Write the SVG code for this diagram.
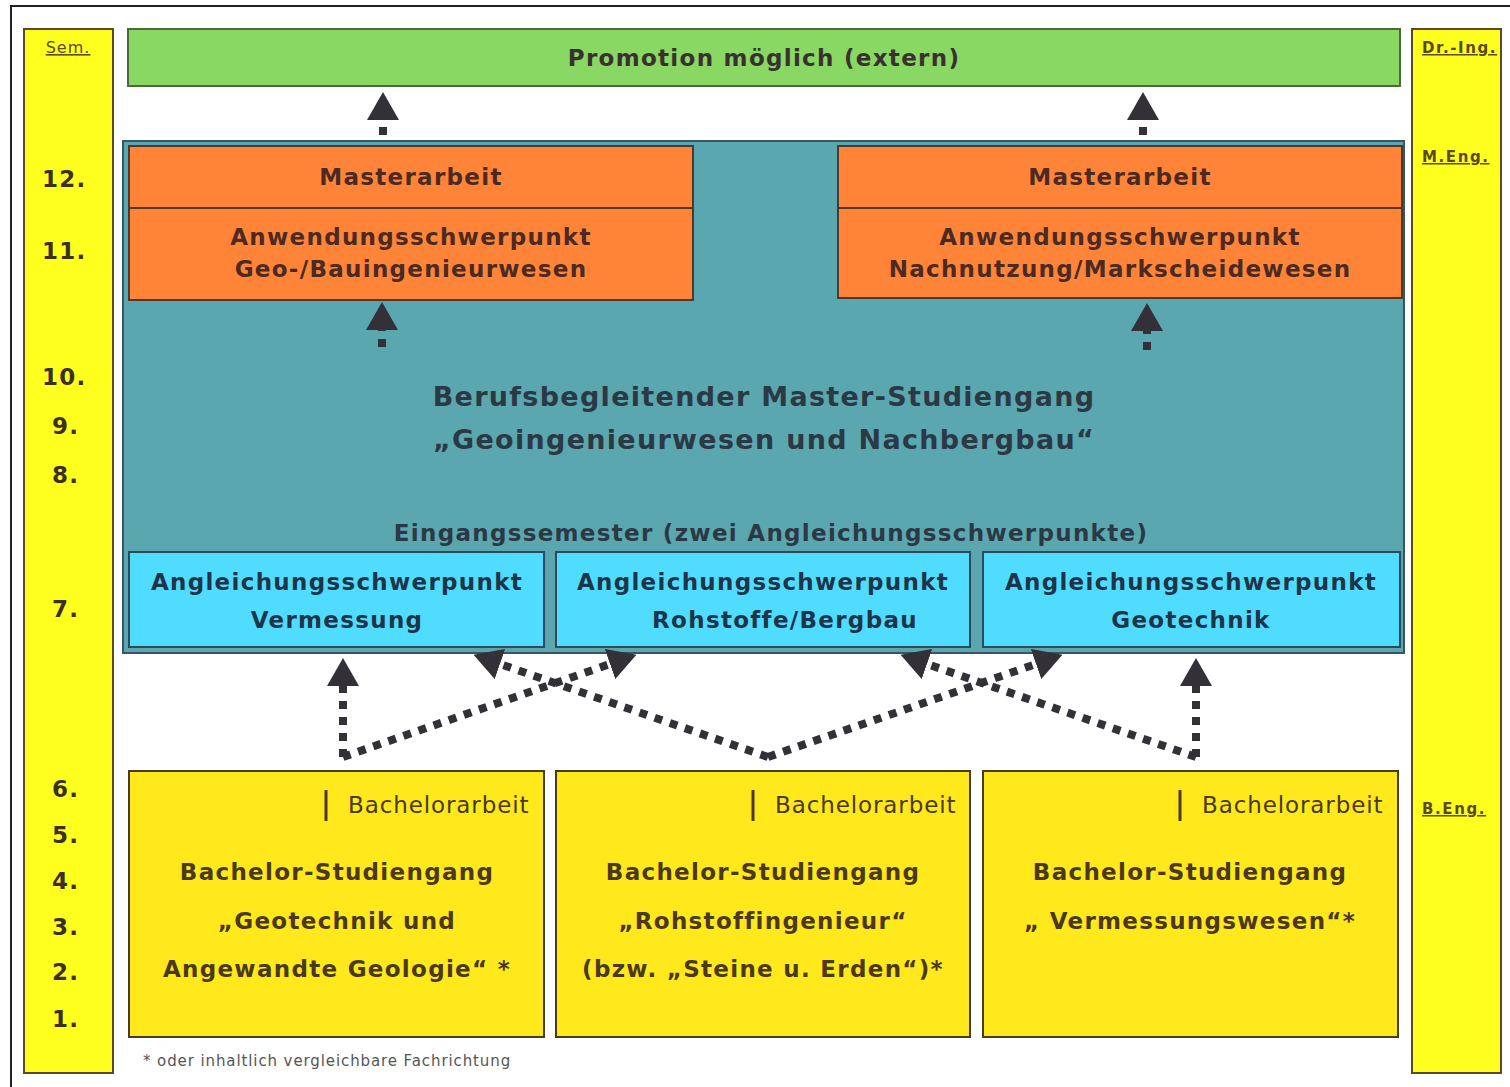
<svg xmlns="http://www.w3.org/2000/svg" width="1510" height="1087" viewBox="0 0 1510 1087">
<style>
text{font-family:"DejaVu Sans","Verdana",sans-serif;font-weight:bold;letter-spacing:1.3px}
.c{text-anchor:middle}
.sem{font-size:23px;fill:#3b3028;letter-spacing:1.2px}
.deg{font-size:15px;fill:#5a4a1e;text-decoration:underline;letter-spacing:1.6px}
.mas{font-size:23px;fill:#4a2a22}
.teal{font-size:27px;fill:#2c3844}
.cy{font-size:23px;fill:#1e3448}
.ba{font-size:23px;fill:#4a3820}
.bar{font-size:23px;font-weight:normal;fill:#4a3820;letter-spacing:0.9px}
.conn{fill:none;stroke:#333038;stroke-width:8;stroke-dasharray:8 8;marker-end:url(#ah)}
</style>
<defs>
<marker id="ah" markerUnits="userSpaceOnUse" markerWidth="30" markerHeight="32" refX="0" refY="16" orient="auto" viewBox="0 0 30 32">
<path d="M0,0 L28,16 L0,32 Z" fill="#333038"/>
</marker>
</defs>
<rect x="0" y="0" width="1510" height="1087" fill="#ffffff"/>
<rect x="11" y="6" width="1510" height="1095" fill="#ffffff" stroke="#222" stroke-width="2"/>

<g id="sem-column">
<rect x="24" y="29" width="89" height="1044" fill="#ffff1f" stroke="#5a4a2a" stroke-width="2"/>
<text x="68" y="53" class="deg c" style="font-weight:normal;font-size:16px;letter-spacing:1px">Sem.</text>
<text x="42" y="187" class="sem">12.</text>
<text x="42" y="259" class="sem">11.</text>
<text x="42" y="385" class="sem">10.</text>
<text x="52" y="434" class="sem">9.</text>
<text x="52" y="483" class="sem">8.</text>
<text x="52" y="617" class="sem">7.</text>
<text x="52" y="797" class="sem">6.</text>
<text x="52" y="843" class="sem">5.</text>
<text x="52" y="889" class="sem">4.</text>
<text x="52" y="935" class="sem">3.</text>
<text x="52" y="980" class="sem">2.</text>
<text x="52" y="1027" class="sem">1.</text>
</g>

<g id="degree-column">
<rect x="1412" y="29" width="89" height="1044" fill="#ffff1f" stroke="#5a4a2a" stroke-width="2"/>
<text x="1422" y="53" class="deg">Dr.-Ing.</text>
<text x="1422" y="162" class="deg">M.Eng.</text>
<text x="1422" y="814" class="deg">B.Eng.</text>
</g>

<g id="promotion">
<rect x="128" y="29" width="1272" height="57" fill="#88d863" stroke="#4a6a3a" stroke-width="2"/>
<text x="764" y="66" class="c" style="font-size:23px;fill:#3a3030">Promotion möglich (extern)</text>
</g>

<g id="master">
<rect x="123" y="141" width="1281" height="512" fill="#5aa7b0" stroke="#3a5560" stroke-width="2"/>
<text x="764" y="406" class="teal c">Berufsbegleitender Master-Studiengang</text>
<text x="764" y="449" class="teal c">„Geoingenieurwesen und Nachbergbau“</text>
<text x="771" y="541" class="c" style="font-size:23px;fill:#2c3844">Eingangssemester (zwei Angleichungsschwerpunkte)</text>
</g>

<g id="master-left">
<rect x="129" y="146" width="564" height="154" fill="#ff8438" stroke="#4a3a30" stroke-width="2"/>
<line x1="129" y1="208" x2="693" y2="208" stroke="#4a3a30" stroke-width="2"/>
<text x="411" y="185" class="mas c">Masterarbeit</text>
<text x="411" y="245" class="mas c">Anwendungsschwerpunkt</text>
<text x="411" y="277" class="mas c">Geo-/Bauingenieurwesen</text>
</g>

<g id="master-right">
<rect x="838" y="146" width="564" height="152" fill="#ff8438" stroke="#4a3a30" stroke-width="2"/>
<line x1="838" y1="208" x2="1402" y2="208" stroke="#4a3a30" stroke-width="2"/>
<text x="1120" y="185" class="mas c">Masterarbeit</text>
<text x="1120" y="245" class="mas c">Anwendungsschwerpunkt</text>
<text x="1120" y="277" class="mas c">Nachnutzung/Markscheidewesen</text>
</g>

<g id="angl-vermessung">
<rect x="129" y="552" width="415" height="95" fill="#50dcff" stroke="#2e4a5a" stroke-width="2"/>
<text x="337" y="590" class="cy c">Angleichungsschwerpunkt</text>
<text x="337" y="628" class="cy c">Vermessung</text>
</g>
<g id="angl-rohstoffe">
<rect x="556" y="552" width="414" height="95" fill="#50dcff" stroke="#2e4a5a" stroke-width="2"/>
<text x="763" y="590" class="cy c">Angleichungsschwerpunkt</text>
<text x="785" y="628" class="cy c">Rohstoffe/Bergbau</text>
</g>
<g id="angl-geotechnik">
<rect x="983" y="552" width="417" height="95" fill="#50dcff" stroke="#2e4a5a" stroke-width="2"/>
<text x="1191" y="590" class="cy c">Angleichungsschwerpunkt</text>
<text x="1191" y="628" class="cy c">Geotechnik</text>
</g>

<g id="bachelor-geotechnik">
<rect x="129" y="771" width="415" height="266" fill="#ffe81c" stroke="#4a3a20" stroke-width="2"/>
<line x1="326" y1="790" x2="326" y2="821" stroke="#4a3820" stroke-width="3"/>
<text x="348" y="813" class="bar">Bachelorarbeit</text>
<text x="337" y="880" class="ba c">Bachelor-Studiengang</text>
<text x="337" y="929" class="ba c">„Geotechnik und</text>
<text x="337" y="977" class="ba c">Angewandte Geologie“ *</text>
</g>
<g id="bachelor-rohstoff">
<rect x="556" y="771" width="414" height="266" fill="#ffe81c" stroke="#4a3a20" stroke-width="2"/>
<line x1="753" y1="790" x2="753" y2="821" stroke="#4a3820" stroke-width="3"/>
<text x="775" y="813" class="bar">Bachelorarbeit</text>
<text x="763" y="880" class="ba c">Bachelor-Studiengang</text>
<text x="763" y="929" class="ba c">„Rohstoffingenieur“</text>
<text x="763" y="977" class="ba c">(bzw. „Steine u. Erden“)*</text>
</g>
<g id="bachelor-vermessung">
<rect x="983" y="771" width="415" height="266" fill="#ffe81c" stroke="#4a3a20" stroke-width="2"/>
<line x1="1180" y1="790" x2="1180" y2="821" stroke="#4a3820" stroke-width="3"/>
<text x="1202" y="813" class="bar">Bachelorarbeit</text>
<text x="1190" y="880" class="ba c">Bachelor-Studiengang</text>
<text x="1190" y="929" class="ba c">„ Vermessungswesen“*</text>
</g>

<text x="143" y="1066" style="font-weight:normal;font-size:15px;fill:#555;letter-spacing:0.9px">* oder inhaltlich vergleichbare Fachrichtung</text>

<g id="connectors">
<path class="conn" d="M383,135 L383,120"/>
<path class="conn" d="M1143,135 L1143,120"/>
<path class="conn" d="M382,347 L382,330"/>
<path class="conn" d="M1147,350 L1147,331"/>
<path class="conn" d="M343,757 L343,686"/>
<path class="conn" d="M343,757 L610,664"/>
<path class="conn" d="M768,757 L500,664"/>
<path class="conn" d="M768,757 L1036,664"/>
<path class="conn" d="M1196,757 L927,664"/>
<path class="conn" d="M1196,757 L1196,686"/>
</g>
</svg>
